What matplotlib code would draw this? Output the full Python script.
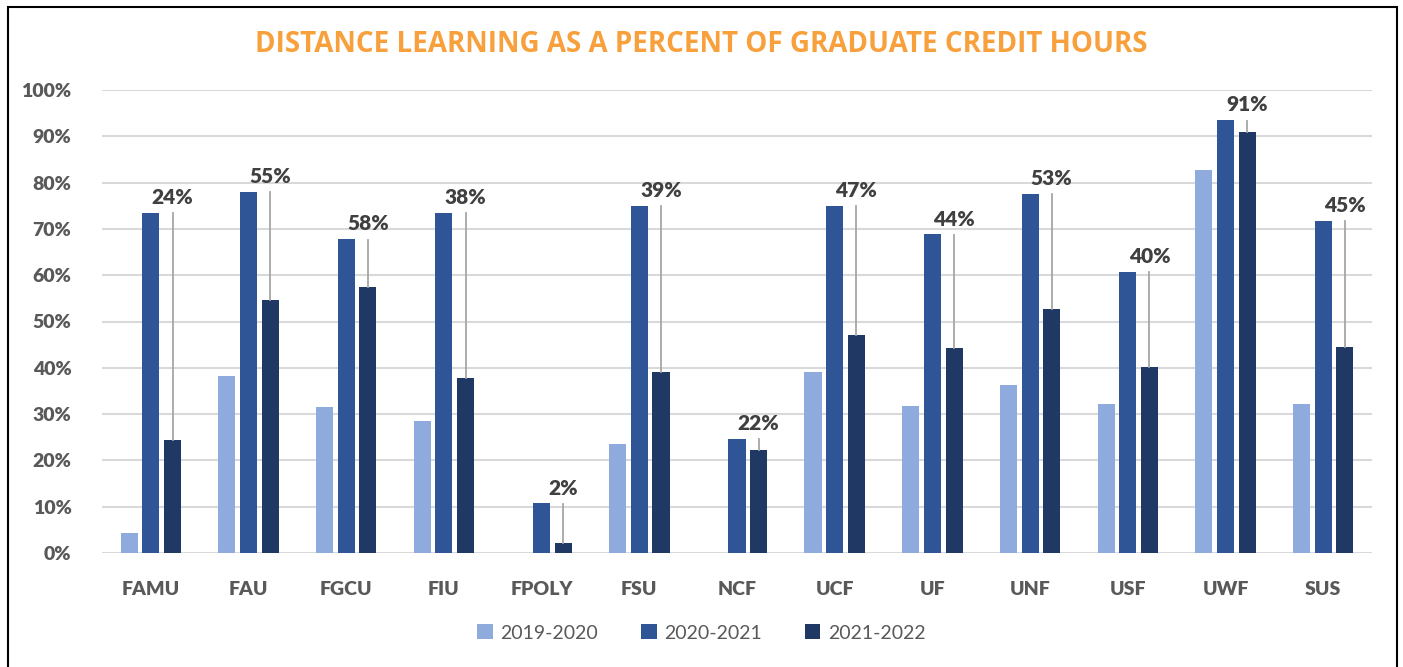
import matplotlib
matplotlib.use("Agg")
import numpy as np
import matplotlib.pyplot as plt
from matplotlib.patches import Rectangle

# data (percent)
schools = ["FAMU", "FAU", "FGCU", "FIU", "FPOLY", "FSU", "NCF",
           "UCF", "UF", "UNF", "USF", "UWF", "SUS"]
y2019 = [4.3, 38.2, 31.5, 28.5, 0, 23.5, 0, 39.2, 31.7, 36.2, 32.2, 82.7, 32.2]
y2020 = [73.5, 78.0, 67.8, 73.5, 10.7, 75.0, 24.7, 75.0, 68.8, 77.6, 60.7, 93.5, 71.7]
y2021 = [24.4, 54.6, 57.5, 37.8, 2.1, 39.0, 22.3, 47.0, 44.3, 52.6, 40.2, 90.9, 44.5]
labels2021 = ["24%", "55%", "58%", "38%", "2%", "39%", "22%",
              "47%", "44%", "53%", "40%", "91%", "45%"]
series_names = ["2019-2020", "2020-2021", "2021-2022"]

c_light = "#8FAADC"
c_mid = "#2F5597"
c_dark = "#203864"
grey_txt = "#595959"

plt.rcParams['font.family'] = ['Lato', 'DejaVu Sans']

fig = plt.figure(figsize=(14.03, 6.67), dpi=100)
ax = fig.add_axes([102/1403, 1-553/667, 1270/1403, 463/667])

x = np.arange(len(schools))
w = 0.175
off = 0.222
ax.bar(x - off, y2019, w, color=c_light, label=series_names[0], zorder=3)
ax.bar(x, y2020, w, color=c_mid, label=series_names[1], zorder=3)
ax.bar(x + off, y2021, w, color=c_dark, label=series_names[2], zorder=3)

# labels for the latest year sit above the group, with leader lines
for i in range(len(schools)):
    ly = max(y2020[i], y2021[i]) + 3.3
    ax.text(x[i] + off, ly, labels2021[i], ha="center", va="center",
            fontsize=15, fontweight="heavy", color="#404040", zorder=5)
    ax.plot([x[i] + off, x[i] + off], [ly - 3.4, y2021[i]],
            color="#A6A6A6", lw=1.3, zorder=4)

ax.set_xlim(-0.5, len(schools) - 0.5)
ax.set_ylim(0, 100)
ax.set_yticks(np.arange(0, 101, 10))
ax.set_yticklabels(["%d%%" % v for v in range(0, 101, 10)])
ax.set_xticks(x)
ax.set_xticklabels(schools)
ax.tick_params(axis="both", length=0, labelsize=14, colors=grey_txt)
ax.tick_params(axis="y", pad=22)
ax.tick_params(axis="x", pad=20)
for t in ax.get_xticklabels() + ax.get_yticklabels():
    t.set_fontweight("heavy")
ax.grid(axis="y", color="#D9D9D9", lw=1.5, zorder=0)
for s in ax.spines.values():
    s.set_visible(False)

fig.text(0.5, 1-44/667, "DISTANCE LEARNING AS A PERCENT OF GRADUATE CREDIT HOURS",
         ha="center", va="center", fontsize=20, fontweight="bold", color="#F7A03C",
         family=["Open Sans", "DejaVu Sans"])

leg = ax.legend(loc="center", bbox_to_anchor=(0.5, 1-633/667), bbox_transform=fig.transFigure,
                ncol=3, frameon=False, fontsize=14, handlelength=0.8, handleheight=0.8,
                columnspacing=2.2, handletextpad=0.4)
for t in leg.get_texts():
    t.set_color(grey_txt)

fig.patches.append(Rectangle((8/1403, -0.1), 1389/1403, 1.1 - 7/667,
                             transform=fig.transFigure, fill=False,
                             edgecolor="black", lw=1.5, zorder=10))

fig.savefig("out.png", dpi=100)
